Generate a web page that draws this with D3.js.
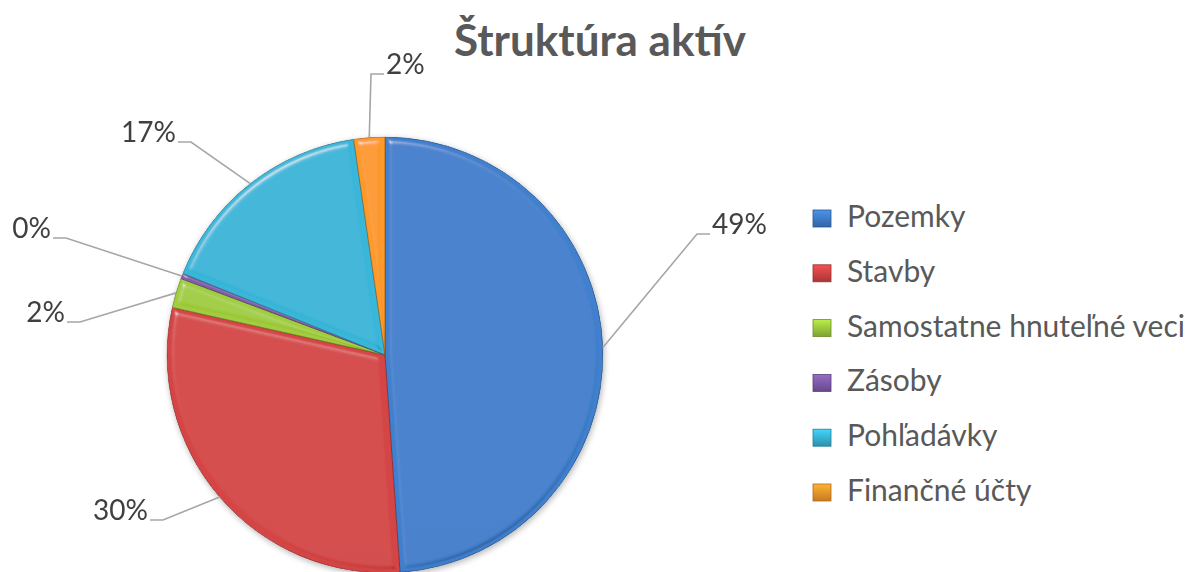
<!DOCTYPE html>
<html>
<head>
<meta charset="utf-8">
<script src="https://cdn.jsdelivr.net/npm/d3@7"></script>
<style>
  html, body { margin: 0; padding: 0; background: #fff; }
  svg { display: block; }
  text { font-family: Lato, "Open Sans", sans-serif; }
</style>
</head>
<body>
<svg id="chart" width="1187" height="572"></svg>
<script>
// ---- data ----
const categories = ["Pozemky", "Stavby", "Samostatne hnuteľné veci", "Zásoby", "Pohľadávky", "Finančné účty"];
const values = [48.9, 29.6, 2.2, 0.4, 16.6, 2.3];
const labels = ["49%", "30%", "2%", "0%", "17%", "2%"];
const colors = ["#3F7CC8", "#D04343", "#9CC83C", "#7E5BA8", "#37B2D4", "#F7962A"];
const title = "Štruktúra aktív";

// ---- layout (label anchor points for Excel best-fit leaders) ----
const labelAnchors = [
  { x: 697, y: 234, side: "right" },
  { x: 163, y: 520, side: "left" },
  { x: 80,  y: 322, side: "left" },
  { x: 66,  y: 238, side: "left" },
  { x: 191, y: 142, side: "left" },
  { x: 371, y: 74,  side: "right" }
];

const svg = d3.select("#chart");
const cx = 385, cy = 355, R = 218;

const defs = svg.append("defs");

// bevel filter: white highlight from upper-left, dark shade from lower-right
const f = defs.append("filter").attr("id", "bevel").attr("x", "-10%").attr("y", "-10%").attr("width", "120%").attr("height", "120%");
f.append("feGaussianBlur").attr("in", "SourceAlpha").attr("stdDeviation", 3).attr("result", "blur");
const specA = f.append("feSpecularLighting").attr("in", "blur").attr("surfaceScale", 5)
  .attr("specularConstant", 1).attr("specularExponent", 40).attr("lighting-color", "#ffffff").attr("result", "specA");
specA.append("feDistantLight").attr("azimuth", 240).attr("elevation", 45);
f.append("feColorMatrix").attr("in", "specA").attr("type", "matrix")
  .attr("values", "0 0 0 0 1  0 0 0 0 1  0 0 0 0 1  0 0 0 0.5 0").attr("result", "hiW");
const specB = f.append("feSpecularLighting").attr("in", "blur").attr("surfaceScale", 5)
  .attr("specularConstant", 1).attr("specularExponent", 40).attr("lighting-color", "#ffffff").attr("result", "specB");
specB.append("feDistantLight").attr("azimuth", 60).attr("elevation", 45);
f.append("feColorMatrix").attr("in", "specB").attr("type", "matrix")
  .attr("values", "0 0 0 0 0  0 0 0 0 0  0 0 0 0 0  0 0 0 0.35 0").attr("result", "loB");
const mg = f.append("feMerge").attr("result", "merged");
mg.append("feMergeNode").attr("in", "SourceGraphic");
mg.append("feMergeNode").attr("in", "loB");
mg.append("feMergeNode").attr("in", "hiW");
f.append("feComposite").attr("in", "merged").attr("in2", "SourceAlpha").attr("operator", "in");

// subtle vertical gradients per colour
colors.forEach((c, i) => {
  const g = defs.append("linearGradient").attr("id", "grad" + i)
    .attr("gradientUnits", "userSpaceOnUse")
    .attr("x1", 0).attr("y1", cy - R).attr("x2", 0).attr("y2", cy + R);
  g.append("stop").attr("offset", "0%").attr("stop-color", d3.color(c).brighter(0.08));
  g.append("stop").attr("offset", "100%").attr("stop-color", d3.color(c).darker(0.12));
});

// shadow filter
const sh = defs.append("filter").attr("id", "shadow").attr("x", "-20%").attr("y", "-20%").attr("width", "140%").attr("height", "140%");
sh.append("feGaussianBlur").attr("in", "SourceAlpha").attr("stdDeviation", 3).attr("result", "b");
sh.append("feOffset").attr("in", "b").attr("dx", 1).attr("dy", 2).attr("result", "o");
sh.append("feComponentTransfer").attr("in", "o").attr("result", "o2")
  .append("feFuncA").attr("type", "linear").attr("slope", 0.3);
const m = sh.append("feMerge");
m.append("feMergeNode").attr("in", "o2");
m.append("feMergeNode").attr("in", "SourceGraphic");

// ---- title ----
svg.append("text")
  .attr("x", 600).attr("y", 56)
  .attr("text-anchor", "middle")
  .attr("font-size", 44).attr("font-weight", "bold")
  .attr("fill", "#595959")
  .text(title);

// ---- pie ----
const pie = d3.pie().sort(null).value(d => d);
const arcs = pie(values);
const arc = d3.arc().innerRadius(0).outerRadius(R);

const pg = svg.append("g").attr("transform", `translate(${cx},${cy})`).attr("filter", "url(#shadow)");
pg.selectAll("path.slice")
  .data(arcs)
  .join("path")
  .attr("class", "slice")
  .attr("d", arc)
  .attr("fill", (d, i) => `url(#grad${i})`)
  .attr("filter", "url(#bevel)")
  .attr("stroke", (d, i) => d3.color(colors[i]).darker(1.3))
  .attr("stroke-width", 0.8)
  .attr("stroke-linejoin", "round");

// ---- leader lines and labels ----
const lg = svg.append("g");
arcs.forEach((d, i) => {
  const a = (d.startAngle + d.endAngle) / 2;
  const px = cx + R * Math.sin(a), py = cy - R * Math.cos(a);
  const an = labelAnchors[i];
  const ex = an.side === "right" ? an.x + 13 : an.x - 13;
  lg.append("polyline")
    .attr("points", `${px},${py} ${an.x},${an.y} ${ex},${an.y}`)
    .attr("fill", "none").attr("stroke", "#A6A6A6").attr("stroke-width", 1.6);
  lg.append("text")
    .attr("x", an.side === "right" ? ex + 2 : ex - 2)
    .attr("y", an.y)
    .attr("text-anchor", an.side === "right" ? "start" : "end")
    .attr("font-size", 28)
    .attr("fill", "#404040")
    .text(labels[i]);
});

// ---- legend ----
const legend = svg.append("g").attr("transform", "translate(813,0)");
const ly = d3.scalePoint().domain(categories).range([219, 493]);
categories.forEach((c, i) => {
  const g = legend.append("g").attr("transform", `translate(0,${ly(c)})`);
  const lgid = "lgrad" + i;
  const lgr = defs.append("linearGradient").attr("id", lgid).attr("x1", 0).attr("y1", 0).attr("x2", 0).attr("y2", 1);
  lgr.append("stop").attr("offset", "0%").attr("stop-color", d3.color(colors[i]).brighter(0.5));
  lgr.append("stop").attr("offset", "100%").attr("stop-color", d3.color(colors[i]).darker(0.6));
  g.append("rect").attr("x", 0).attr("y", -9).attr("width", 18).attr("height", 17)
    .attr("fill", `url(#${lgid})`).attr("stroke", d3.color(colors[i]).darker(1)).attr("stroke-width", 0.8);
  g.append("text").attr("x", 34).attr("y", 8)
    .attr("font-size", 30).attr("fill", "#595959")
    .text(c);
});
</script>
</body>
</html>
